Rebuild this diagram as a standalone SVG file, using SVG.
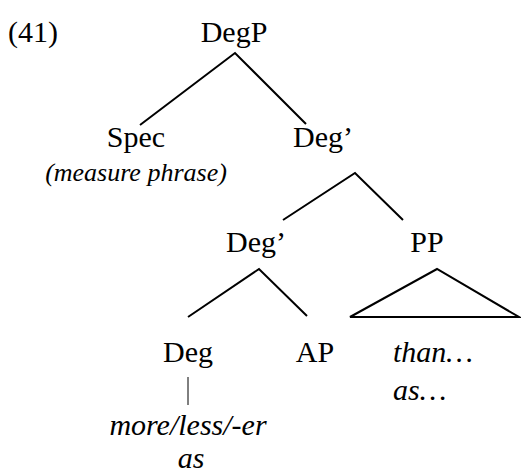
<svg xmlns="http://www.w3.org/2000/svg" width="521" height="474" viewBox="0 0 521 474">
<rect width="521" height="474" fill="#fff"/>
<text x="8" y="42" font-family="Times New Roman, Liberation Serif, serif" font-size="30">(41)</text>
<g id="connectors" stroke="#000" stroke-width="2" fill="none">
<path d="M140,125 L235,53 L306,124"/>
<path d="M283,220 L355,173 L403,220"/>
<path d="M188,317 L259,269 L307,316"/>
<path d="M350,317 L437,269 L519,317 Z"/>
<line x1="188" y1="377" x2="188" y2="405" stroke-width="1"/>
</g>
<g id="DegP"><text x="234" y="42" font-family="Times New Roman, Liberation Serif, serif" font-size="30" text-anchor="middle">DegP</text></g>
<g id="Spec"><text x="136" y="147" font-family="Times New Roman, Liberation Serif, serif" font-size="30" text-anchor="middle">Spec</text><text x="136" y="181" font-family="Times New Roman, Liberation Serif, serif" font-size="26" font-style="italic" text-anchor="middle">(measure phrase)</text></g>
<g id="Deg1"><text x="323" y="147" font-family="Times New Roman, Liberation Serif, serif" font-size="30" text-anchor="middle">Deg&#8217;</text></g>
<g id="Deg2"><text x="256" y="252" font-family="Times New Roman, Liberation Serif, serif" font-size="30" text-anchor="middle">Deg&#8217;</text></g>
<g id="PP"><text x="427" y="252" font-family="Times New Roman, Liberation Serif, serif" font-size="30" text-anchor="middle">PP</text></g>
<g id="Deg"><text x="188" y="362" font-family="Times New Roman, Liberation Serif, serif" font-size="30" text-anchor="middle">Deg</text><text x="188" y="435" font-family="Times New Roman, Liberation Serif, serif" font-size="30" font-style="italic" text-anchor="middle">more/less/-er</text><text x="191" y="468" font-family="Times New Roman, Liberation Serif, serif" font-size="30" font-style="italic" text-anchor="middle">as</text></g>
<g id="AP"><text x="315" y="362" font-family="Times New Roman, Liberation Serif, serif" font-size="30" text-anchor="middle">AP</text></g>
<g id="PPc"><text x="393" y="362" font-family="Times New Roman, Liberation Serif, serif" font-size="30" font-style="italic">than&#8230;</text><text x="393" y="400" font-family="Times New Roman, Liberation Serif, serif" font-size="30" font-style="italic">as&#8230;</text></g>
</svg>
